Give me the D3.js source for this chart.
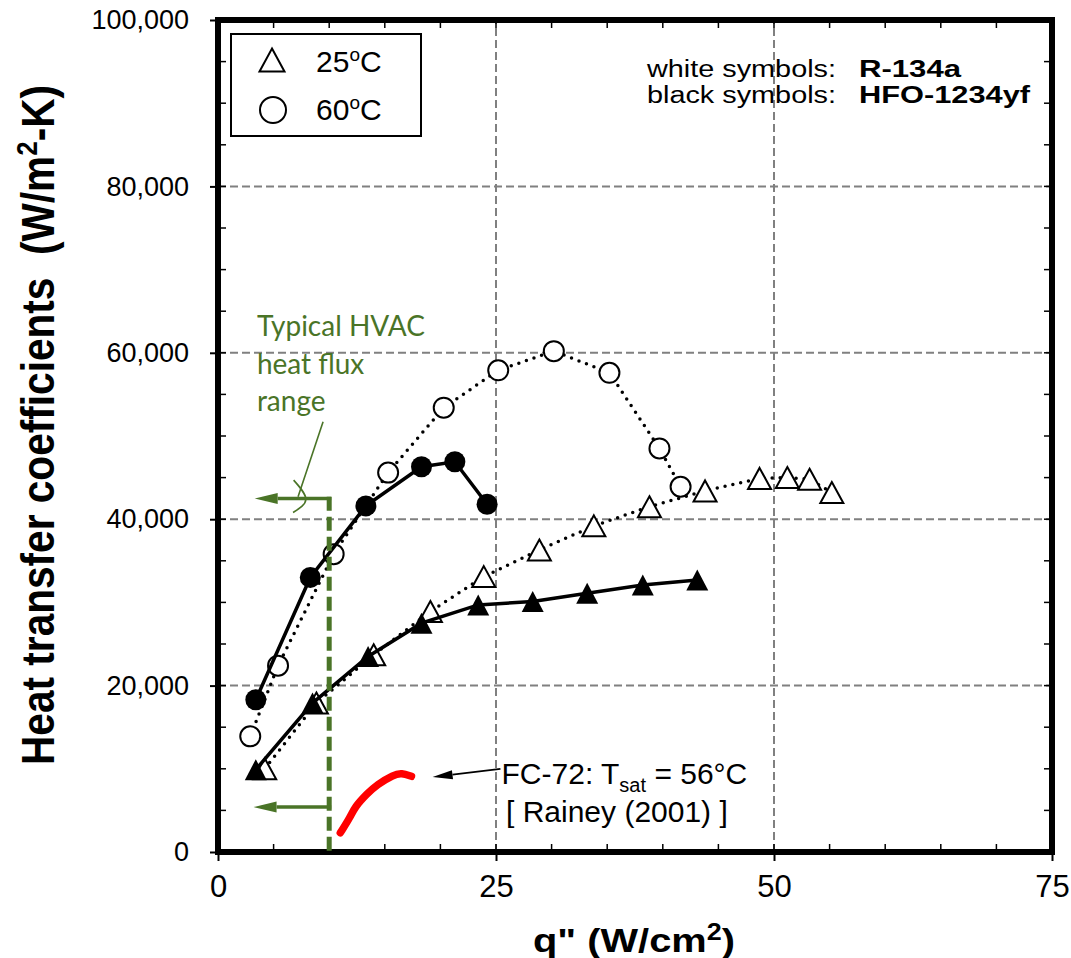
<!DOCTYPE html>
<html>
<head>
<meta charset="utf-8">
<script src="https://cdn.jsdelivr.net/npm/d3@7"></script>
<style>
  body { margin: 0; background: #fff; }
  text { font-family: "Liberation Sans", Arial, sans-serif; fill: #000; }
</style>
</head>
<body>
<svg id="chart"></svg>
<script>
const width = 1071, height = 958;
const margin = {top: 20, right: 19, bottom: 106, left: 218};

// q" (W/cm2) , h (W/m2-K)
const r134a25 = [[4.2,10000],[8.85,17900],[14.0,23700],[19.1,28900],[23.9,33100],[28.9,36300],
  [33.8,39200],[38.8,41500],[43.8,43400],[48.7,44900],[51.2,45000],[53.2,44800],[55.2,43200]];
const r134a60 = [[2.9,13900],[5.4,22400],[10.4,35800],[15.3,45600],[20.3,53400],[25.2,57900],
  [30.2,60200],[35.2,57600],[39.7,48500],[41.6,43900]];
const hfo25 = [[3.4,9900],[8.5,17900],[13.5,23500],[18.3,27500],[23.4,29700],[28.3,30100],
  [33.2,31100],[38.2,32100],[43.1,32700]];
const hfo60 = [[3.4,18300],[8.3,33000],[13.3,41600],[18.3,46300],[21.3,46900],[24.2,41800]];
const fc72 = [[11.0,2300],[11.9,4200],[12.3,5400],[13.4,7000],[14.3,8100],[15.8,9300],[16.5,9500],[17.4,9100]];

const xTicks = [0, 25, 50, 75];
const yTicks = [0, 20000, 40000, 60000, 80000, 100000];
const xMinor = d3.range(0, 76, 5);
const yMinor = d3.range(0, 100001, 5000);

// HVAC annotation
const hvacFlux = 10;
const hvacTop = 42700;
const hvacArrows = [[42500, 3.3], [5400, 3.2]]; // [h, tip q]
const hvacLines = ["Typical HVAC", "heat flux", "range"];
const hvacLeader = [[9.45, 51700], [7.2, 42700]];
const hvacHook = [[6.8, 44700], [7.9, 42400], [6.75, 40800]];
const fcArrow = [[25.4, 10000], [19.3, 9000]];

const green = "#4a7427";

const svg = d3.select("#chart").attr("width", width).attr("height", height);

const x = d3.scaleLinear().domain([0, 75]).range([margin.left, width - margin.right]);
const y = d3.scaleLinear().domain([0, 100000]).range([height - margin.bottom, margin.top]);
const x0 = x(0), x1 = x(75), y0 = y(0), y1 = y(100000);

// gridlines
svg.append("g").selectAll("line").data([25, 50]).join("line")
  .attr("x1", d => x(d)).attr("x2", d => x(d)).attr("y1", y0).attr("y2", y1)
  .attr("stroke", "#808080").attr("stroke-width", 2).attr("stroke-dasharray", "8,4");
svg.append("g").selectAll("line").data([20000, 40000, 60000, 80000]).join("line")
  .attr("x1", x0).attr("x2", x1).attr("y1", d => y(d)).attr("y2", d => y(d))
  .attr("stroke", "#808080").attr("stroke-width", 2).attr("stroke-dasharray", "8,4");

// minor ticks (inside, all four sides)
const ticks = svg.append("g").attr("stroke", "#000").attr("stroke-width", 1.5);
xMinor.forEach(d => {
  ticks.append("line").attr("x1", x(d)).attr("x2", x(d)).attr("y1", y0).attr("y2", y0 - 8);
  ticks.append("line").attr("x1", x(d)).attr("x2", x(d)).attr("y1", y1).attr("y2", y1 + 8);
});
yMinor.forEach(d => {
  ticks.append("line").attr("y1", y(d)).attr("y2", y(d)).attr("x1", x0).attr("x2", x0 + 8);
  ticks.append("line").attr("y1", y(d)).attr("y2", y(d)).attr("x1", x1).attr("x2", x1 - 8);
});

// axes with labels
const xAxis = svg.append("g").attr("transform", `translate(0,${y0})`)
  .call(d3.axisBottom(x).tickValues(xTicks).tickSize(9).tickPadding(14).tickFormat(d3.format("d")));
xAxis.select(".domain").remove();
xAxis.selectAll("line").attr("stroke-width", 2);
xAxis.attr("font-size", 31).attr("font-family", null);

const yAxis = svg.append("g").attr("transform", `translate(${x0},0)`)
  .call(d3.axisLeft(y).tickValues(yTicks).tickSize(8).tickPadding(21).tickFormat(d3.format(",")));
yAxis.select(".domain").remove();
yAxis.selectAll("line").attr("stroke-width", 2);
yAxis.attr("font-size", 27).attr("font-family", null);

// frame
svg.append("rect").attr("x", x0).attr("y", y1).attr("width", x1 - x0).attr("height", y0 - y1)
  .attr("fill", "none").attr("stroke", "#000").attr("stroke-width", 6);

const line = d3.line().x(d => x(d[0])).y(d => y(d[1]));
const triPath = (w, h) => `M0,${-h / 2}L${w / 2},${h / 2}L${-w / 2},${h / 2}Z`;

// R-134a (white symbols, dotted)
[r134a25, r134a60].forEach(s => {
  svg.append("path").datum(s).attr("d", line).attr("fill", "none")
    .attr("stroke", "#000").attr("stroke-width", 3.5)
    .attr("stroke-linecap", "round").attr("stroke-dasharray", "0,8");
});
svg.append("g").selectAll("circle").data(r134a60).join("circle")
  .attr("cx", d => x(d[0])).attr("cy", d => y(d[1])).attr("r", 10)
  .attr("fill", "#fff").attr("stroke", "#000").attr("stroke-width", 2);
svg.append("g").selectAll("path").data(r134a25).join("path")
  .attr("transform", d => `translate(${x(d[0])},${y(d[1])})`)
  .attr("d", triPath(23, 21))
  .attr("fill", "#fff").attr("stroke", "#000").attr("stroke-width", 2);

// HFO-1234yf (black symbols, solid)
[hfo25, hfo60].forEach(s => {
  svg.append("path").datum(s).attr("d", line).attr("fill", "none")
    .attr("stroke", "#000").attr("stroke-width", 3.5);
});
svg.append("g").selectAll("circle").data(hfo60).join("circle")
  .attr("cx", d => x(d[0])).attr("cy", d => y(d[1])).attr("r", 10.5).attr("fill", "#000");
svg.append("g").selectAll("path").data(hfo25).join("path")
  .attr("transform", d => `translate(${x(d[0])},${y(d[1])})`)
  .attr("d", triPath(22, 21)).attr("fill", "#000");

// FC-72 Rainey curve
svg.append("path").datum(fc72).attr("d", line.curve(d3.curveBasis)).attr("fill", "none")
  .attr("stroke", "#ff0000").attr("stroke-width", 7.5).attr("stroke-linecap", "round");
line.curve(d3.curveLinear);

// FC-72 arrow + label
function arrow(g, from, to, color, lw, headL, headW) {
  const ang = Math.atan2(to[1] - from[1], to[0] - from[0]);
  const bx = to[0] - headL * Math.cos(ang), by = to[1] - headL * Math.sin(ang);
  g.append("line").attr("x1", from[0]).attr("y1", from[1]).attr("x2", bx).attr("y2", by)
    .attr("stroke", color).attr("stroke-width", lw);
  const px = -Math.sin(ang) * headW / 2, py = Math.cos(ang) * headW / 2;
  g.append("path").attr("d", `M${to[0]},${to[1]}L${bx + px},${by + py}L${bx - px},${by - py}Z`)
    .attr("fill", color);
}
const ann = svg.append("g");
arrow(ann, [x(fcArrow[0][0]), y(fcArrow[0][1])], [x(fcArrow[1][0]), y(fcArrow[1][1])], "#000", 1.8, 20, 9);

const fcText = ann.append("text").attr("x", x(25.5)).attr("y", y(8200)).style("font-size", "30px");
fcText.append("tspan").text("FC-72: T");
fcText.append("tspan").text("sat").style("font-size", "20px").attr("dy", 8);
fcText.append("tspan").text(" = 56°C").attr("dy", -8);
ann.append("text").attr("x", x(25.9)).attr("y", y(3600)).style("font-size", "30px")
  .text("[ Rainey (2001) ]");

// HVAC green annotation
const hv = svg.append("g");
hv.append("line").attr("x1", x(hvacFlux)).attr("x2", x(hvacFlux)).attr("y1", y(hvacTop)).attr("y2", y0)
  .attr("stroke", green).attr("stroke-width", 5).attr("stroke-dasharray", "14,6");
hvacArrows.forEach(([h, tip]) => {
  arrow(hv, [x(hvacFlux) + 2, y(h)], [x(tip), y(h)], green, 3.5, 23, 11);
});
hv.selectAll("text").data(hvacLines).join("text")
  .attr("x", x(3.5)).attr("y", (d, i) => y(62000) + i * 37.5)
  .style("font-family", "Lato, 'Open Sans', sans-serif").style("font-size", "28px")
  .style("fill", green).text(d => d);
hv.append("path").datum(hvacLeader).attr("d", line).attr("fill", "none")
  .attr("stroke", green).attr("stroke-width", 1.6);
hv.append("path").datum(hvacHook).attr("d", d3.line().x(d => x(d[0])).y(d => y(d[1])).curve(d3.curveNatural))
  .attr("fill", "none").attr("stroke", green).attr("stroke-width", 1.6);

// legend
const lg = svg.append("g");
lg.append("rect").attr("x", 231).attr("y", 34).attr("width", 190).attr("height", 102)
  .attr("fill", "#fff").attr("stroke", "#000").attr("stroke-width", 2);
lg.append("path").attr("transform", "translate(272,60)").attr("d", triPath(25, 23))
  .attr("fill", "#fff").attr("stroke", "#000").attr("stroke-width", 2);
lg.append("circle").attr("cx", 273).attr("cy", 110).attr("r", 13)
  .attr("fill", "#fff").attr("stroke", "#000").attr("stroke-width", 2);
[["25", 72], ["60", 120]].forEach(([t, by]) => {
  const tx = lg.append("text").attr("x", 316).attr("y", by).style("font-size", "30px");
  tx.append("tspan").text(t);
  tx.append("tspan").text("o").style("font-size", "19px").attr("dy", -11);
  tx.append("tspan").text("C").attr("dy", 11);
});

// refrigerant note
const note = svg.append("g");
[["white symbols:", "R-134a", 77, 102], ["black symbols:", "HFO-1234yf", 103, 171]].forEach(([a, b, by, bw]) => {
  note.append("text").attr("x", 647).attr("y", by).style("font-size", "23px")
    .attr("textLength", 189).attr("lengthAdjust", "spacingAndGlyphs").text(a);
  note.append("text").attr("x", 859).attr("y", by).style("font-size", "23px").style("font-weight", "bold")
    .attr("textLength", bw).attr("lengthAdjust", "spacingAndGlyphs").text(b);
});

// axis titles
const xt = svg.append("text").attr("x", 634).attr("y", 952).attr("text-anchor", "middle")
  .style("font-size", "34px").style("font-weight", "bold")
  .attr("textLength", 202).attr("lengthAdjust", "spacingAndGlyphs");
xt.append("tspan").text("q\" (W/cm");
xt.append("tspan").text("2").style("font-size", "23px").attr("dy", -12);
xt.append("tspan").text(")").attr("dy", 12);

const yt = svg.append("text").attr("transform", "translate(54,425) rotate(-90)")
  .attr("text-anchor", "middle")
  .style("font-family", "'Liberation Sans Narrow', 'Arial Narrow', 'Liberation Sans', sans-serif")
  .style("font-size", "47px").style("font-weight", "bold")
  .attr("textLength", 680).attr("lengthAdjust", "spacingAndGlyphs");
yt.append("tspan").text("Heat transfer coefficients\u00a0\u00a0(W/m");
yt.append("tspan").text("2").style("font-size", "30px").attr("dy", -17);
yt.append("tspan").text("-K)").attr("dy", 17);
</script>
</body>
</html>
